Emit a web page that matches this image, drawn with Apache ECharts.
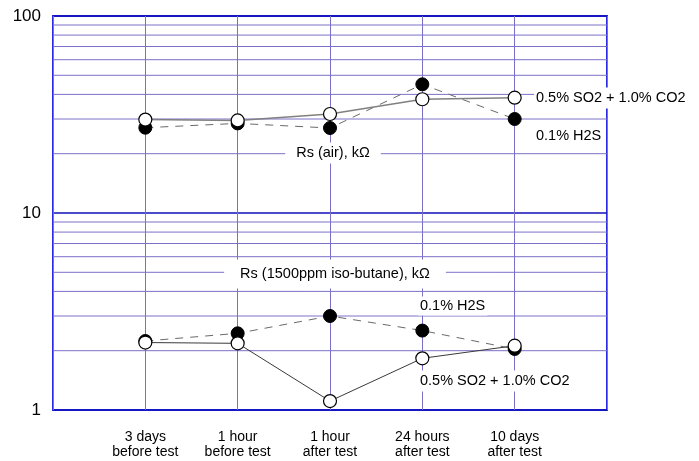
<!DOCTYPE html>
<html><head><meta charset="utf-8">
<script src="https://cdn.jsdelivr.net/npm/echarts@6/dist/echarts.min.js"></script>
<style>html,body{margin:0;padding:0;background:#fff}#c{width:699px;height:461px}</style>
</head><body><div id="c"></div>
<script>
var categories = ['3 days\nbefore test','1 hour\nbefore test','1 hour\nafter test','24 hours\nafter test','10 days\nafter test'];
var airH2S = [27.1, 28.5, 27.0, 45.0, 30.0];
var airSO2 = [29.8, 29.5, 31.8, 37.8, 38.5];
var butH2S = [2.24, 2.45, 3.0, 2.53, 2.04];
var butSO2 = [2.2, 2.18, 1.11, 1.83, 2.12];
var yTicks = [1, 10, 100];
var minorGrid = [2,3,4,5,6,7,8,9,20,30,40,50,60,70,80,90];

function pts(arr){ return arr.map(function(v,i){ return [i+1, v]; }); }

var chart = echarts.init(document.getElementById('c'), null, {renderer:'canvas'});
var gridColor = '#7b70c8';
var font = 'Liberation Sans, Arial, sans-serif';
var openStyle = {color:'#fff', borderColor:'#000', borderWidth:1.2};
var fillStyle = {color:'#000', borderColor:'#000', borderWidth:1};

chart.setOption({
  animation:false,
  grid:{left:53, right:92, top:16, bottom:51, show:true, borderColor:'#2b2be6', borderWidth:2, backgroundColor:'#fff'},
  xAxis:{type:'value', min:0, max:6, interval:1,
    axisLine:{show:false}, axisTick:{show:false},
    splitLine:{show:true, lineStyle:{color:gridColor, width:1}},
    axisLabel:{margin:20, fontSize:14, lineHeight:15, color:'#000', fontFamily:font,
      formatter:function(v){ return (v>=1 && v<=categories.length) ? categories[v-1] : ''; }}
  },
  yAxis:{type:'log', logBase:10, min:yTicks[0], max:yTicks[yTicks.length-1],
    axisLine:{show:false}, axisTick:{show:false},
    splitLine:{show:true, lineStyle:{color:'#1010b8', width:1.5}},
    axisLabel:{margin:12, fontSize:17, color:'#000', fontFamily:font}
  },
  series:[
    {type:'custom', silent:true, z:1, clip:true,
      data:minorGrid.map(function(v){ return [v]; }),
      renderItem:function(params, api){
        var v = api.value(0);
        var p1 = api.coord([0, v]);
        var p2 = api.coord([6, v]);
        return {type:'line', shape:{x1:p1[0], y1:p1[1], x2:p2[0], y2:p2[1]},
          style:{stroke:gridColor, lineWidth:1}};
      }},
    {name:'air H2S', type:'line', data:pts(airH2S), symbol:'circle', symbolSize:13,
      lineStyle:{color:'#6a6a6a', width:1, type:[8,7]}, itemStyle:fillStyle, z:3},
    {name:'butane H2S', type:'line', data:pts(butH2S), symbol:'circle', symbolSize:13,
      lineStyle:{color:'#6a6a6a', width:1, type:[8,7]}, itemStyle:fillStyle, z:3},
    {name:'air SO2', type:'line', data:pts(airSO2), symbol:'circle', symbolSize:13,
      lineStyle:{color:'#808080', width:1.5}, itemStyle:openStyle, z:4},
    {name:'butane SO2', type:'line', data:pts(butSO2), symbol:'circle', symbolSize:13,
      lineStyle:{color:'#3a3a3a', width:1}, itemStyle:openStyle, z:4}
  ],
  graphic:[
    {type:'text', x:534, y:98, z:100, style:{text:'0.5% SO2 + 1.0% CO2', font:'14.5px '+font, fill:'#000', verticalAlign:'middle', align:'left', backgroundColor:'#fff', padding:[3,2]}},
    {type:'text', x:534, y:136, z:100, style:{text:'0.1% H2S', font:'14.5px '+font, fill:'#000', verticalAlign:'middle', align:'left', backgroundColor:'#fff', padding:[2,2]}},
    {type:'text', x:333, y:153, z:100, style:{text:'Rs (air), k\u03A9', font:'14.5px '+font, fill:'#000', verticalAlign:'middle', align:'center', backgroundColor:'#fff', padding:[3,11]}},
    {type:'text', x:335, y:274, z:100, style:{text:'Rs (1500ppm iso-butane), k\u03A9', font:'14.5px '+font, fill:'#000', verticalAlign:'middle', align:'center', backgroundColor:'#fff', padding:[7,16]}},
    {type:'text', x:418, y:306, z:100, style:{text:'0.1% H2S', font:'14.5px '+font, fill:'#000', verticalAlign:'middle', align:'left', backgroundColor:'#fff', padding:[2,2]}},
    {type:'text', x:418, y:381, z:100, style:{text:'0.5% SO2 + 1.0% CO2', font:'14.5px '+font, fill:'#000', verticalAlign:'middle', align:'left', backgroundColor:'#fff', padding:[3,2]}}
  ]
});
</script>
</body></html>
